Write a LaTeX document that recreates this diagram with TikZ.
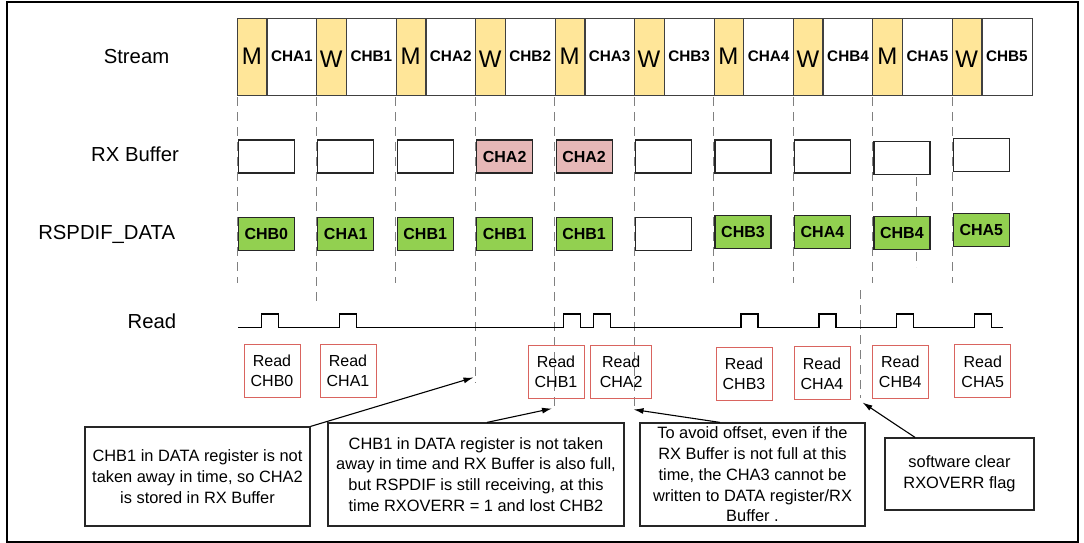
\documentclass[tikz,border=0pt]{standalone}
\usepackage{fontspec}
\setmainfont{Liberation Sans}
\usetikzlibrary{arrows.meta,positioning,calc}
\definecolor{mwfill}{HTML}{FFE699}
\definecolor{datafill}{HTML}{92D050}
\definecolor{buffill}{HTML}{E6B8B7}
\definecolor{readred}{HTML}{D9645F}
\definecolor{guide}{HTML}{808080}
\definecolor{cellline}{HTML}{404040}

\begin{document}
\begin{tikzpicture}[x=1pt,y=-1pt,
  rowlabel/.style={anchor=base,font=\fontsize{20.3}{24}\selectfont},
  mwcell/.style={draw=cellline,fill=mwfill,minimum width=29.5pt,minimum height=77pt,inner sep=0pt,font=\fontsize{24}{28}\selectfont},
  chcell/.style={draw=cellline,minimum width=49.95pt,minimum height=77pt,inner sep=0pt,font=\fontsize{15.3}{18}\selectfont\bfseries},
  regbox/.style={draw=black!85,line width=1.2pt,minimum width=56pt,minimum height=33pt,inner sep=0pt,font=\fontsize{16}{19}\selectfont\bfseries},
  readbox/.style={draw=readred,line width=1pt,minimum width=56pt,minimum height=53pt,inner sep=0pt,align=center,font=\fontsize{16}{20}\selectfont},
  notebox/.style={draw=black!85,line width=1.2pt,inner sep=0pt,align=center,font=\fontsize{16.4}{20.8}\selectfont},
  guideline/.style={guide,line width=1pt,dash pattern=on 9pt off 6pt},
  readline/.style={line width=1.2pt,line join=miter},
  callarrow/.style={line width=1.1pt,-{Latex[length=10pt,width=6pt]}}]
  \useasboundingbox (0,0) rectangle (1084,543);
  \draw[line width=2pt] (7,2.5) rectangle (1078,541.5);

  % row labels
  \node[rowlabel] (lstream) at (136.5,63.5) {Stream};
  \node[rowlabel] (lrx) at (135,161.5) {RX Buffer};
  \node[rowlabel] (ldata) at (106.7,239) {RSPDIF\_DATA};
  \node[rowlabel] (lread) at (152,328.3) {Read};

  % guide lines
  \foreach \c/\yend in {0/283,1/305,2/283,3/383,4/410,5/410,6/283,7/283,8/283,9/283}
    \draw[guideline] (237+79.45*\c,97) -- (237+79.45*\c,\yend);
  \draw[guideline] (860,290) -- (860,398);
  \draw[guideline] (916,177) -- (916,267);

  % Stream row
  \foreach \k in {1,...,5}{
    \pgfmathsetmacro{\xm}{237+79.45*(2*\k-2)}
    \pgfmathsetmacro{\xw}{237+79.45*(2*\k-1)}
    \node[mwcell] (m\k) at (\xm+14.75,56.5) {M};
    \node[chcell,right=0pt of m\k] (cha\k) {CHA\k};
    \node[mwcell,text height=22pt,text depth=0pt] (w\k) at (\xw+14.75,56.5) {W};
    \node[chcell,right=0pt of w\k] (chb\k) {CHB\k};
  }

  % RX Buffer
  \foreach \c/\yc/\txt/\fc [count=\n] in {0/156.5/{}/white,1/156.5/{}/white,2/156.5/{}/white,3/156.5/CHA2/buffill,4/156.5/CHA2/buffill,5/156.5/{}/white,6/156.5/{}/white,7/156.5/{}/white,8/158/{}/white,9/154.7/{}/white}
    \node[regbox,fill=\fc] (rx\n) at (266.3+79.45*\c,\yc) {\txt};

  % RSPDIF_DATA
  \foreach \c/\yc/\txt/\fc [count=\n] in {0/234.3/CHB0/datafill,1/234.3/CHA1/datafill,2/234.3/CHB1/datafill,3/234.3/CHB1/datafill,4/234.3/CHB1/datafill,5/234.3/{}/white,6/232/CHB3/datafill,7/232/CHA4/datafill,8/233.3/CHB4/datafill,9/230/CHA5/datafill}
    \node[regbox,fill=\fc] (dat\n) at (266.3+79.45*\c,\yc) {\txt};

  % Read pulses
  \draw[readline] (238,327.7)
    \foreach \p in {261.7,339.3,563.3,593.3,741,819,896.7,974.3}{
      -- (\p,327.7) -- (\p,314) -- (\p+17,314) -- (\p+17,327.7)}
    -- (1002.7,327.7);

  \foreach \xc/\yc/\w/\txt [count=\n] in {272/371/56/CHB0,348/371/56/CHA1,556/372.2/56/CHB1,621.2/372.2/61/CHA2,744/373.7/56/CHB3,822/373.3/56/CHA4,900.3/372/56/CHB4,982.8/371.3/56/CHA5}
    \node[readbox,minimum width=\w pt] (rd\n) at (\xc,\yc) {Read\\\txt};

  % notes
  \node[notebox,minimum width=225pt,minimum height=99pt] (note1) at (197.5,476.5)
    {CHB1 in DATA register is not\\taken away in time, so CHA2\\is stored in RX Buffer};
  \node[notebox,minimum width=296pt,minimum height=103pt] (note2) at (476,474.5)
    {CHB1 in DATA register is not taken\\away in time and RX Buffer is also full,\\but RSPDIF is still receiving, at this\\time RXOVERR = 1 and lost CHB2};
  \node[notebox,minimum width=225pt,minimum height=103pt] (note3) at (752.5,474.5)
    {To avoid offset, even if the\\RX Buffer is not full at this\\time, the CHA3 cannot be\\written to DATA register/RX\\Buffer .};
  \node[notebox,minimum width=149pt,minimum height=72pt] (note4) at (959.5,474)
    {software clear\\RXOVERR flag};

  \coordinate (hit1) at (473.5,377.5);
  \coordinate (hit2) at (552,408.5);
  \coordinate (hit3) at (633.5,409.5);
  \coordinate (hit4) at (862.5,402.5);
  \draw[callarrow] (note1.north east) -- (hit1);
  \draw[callarrow] ([xshift=11pt]note2.north) -- (hit2);
  \draw[callarrow] ([xshift=-32.5pt]note3.north) -- (hit3);
  \draw[callarrow] ([xshift=-44.5pt]note4.north) -- (hit4);
\end{tikzpicture}
\end{document}
